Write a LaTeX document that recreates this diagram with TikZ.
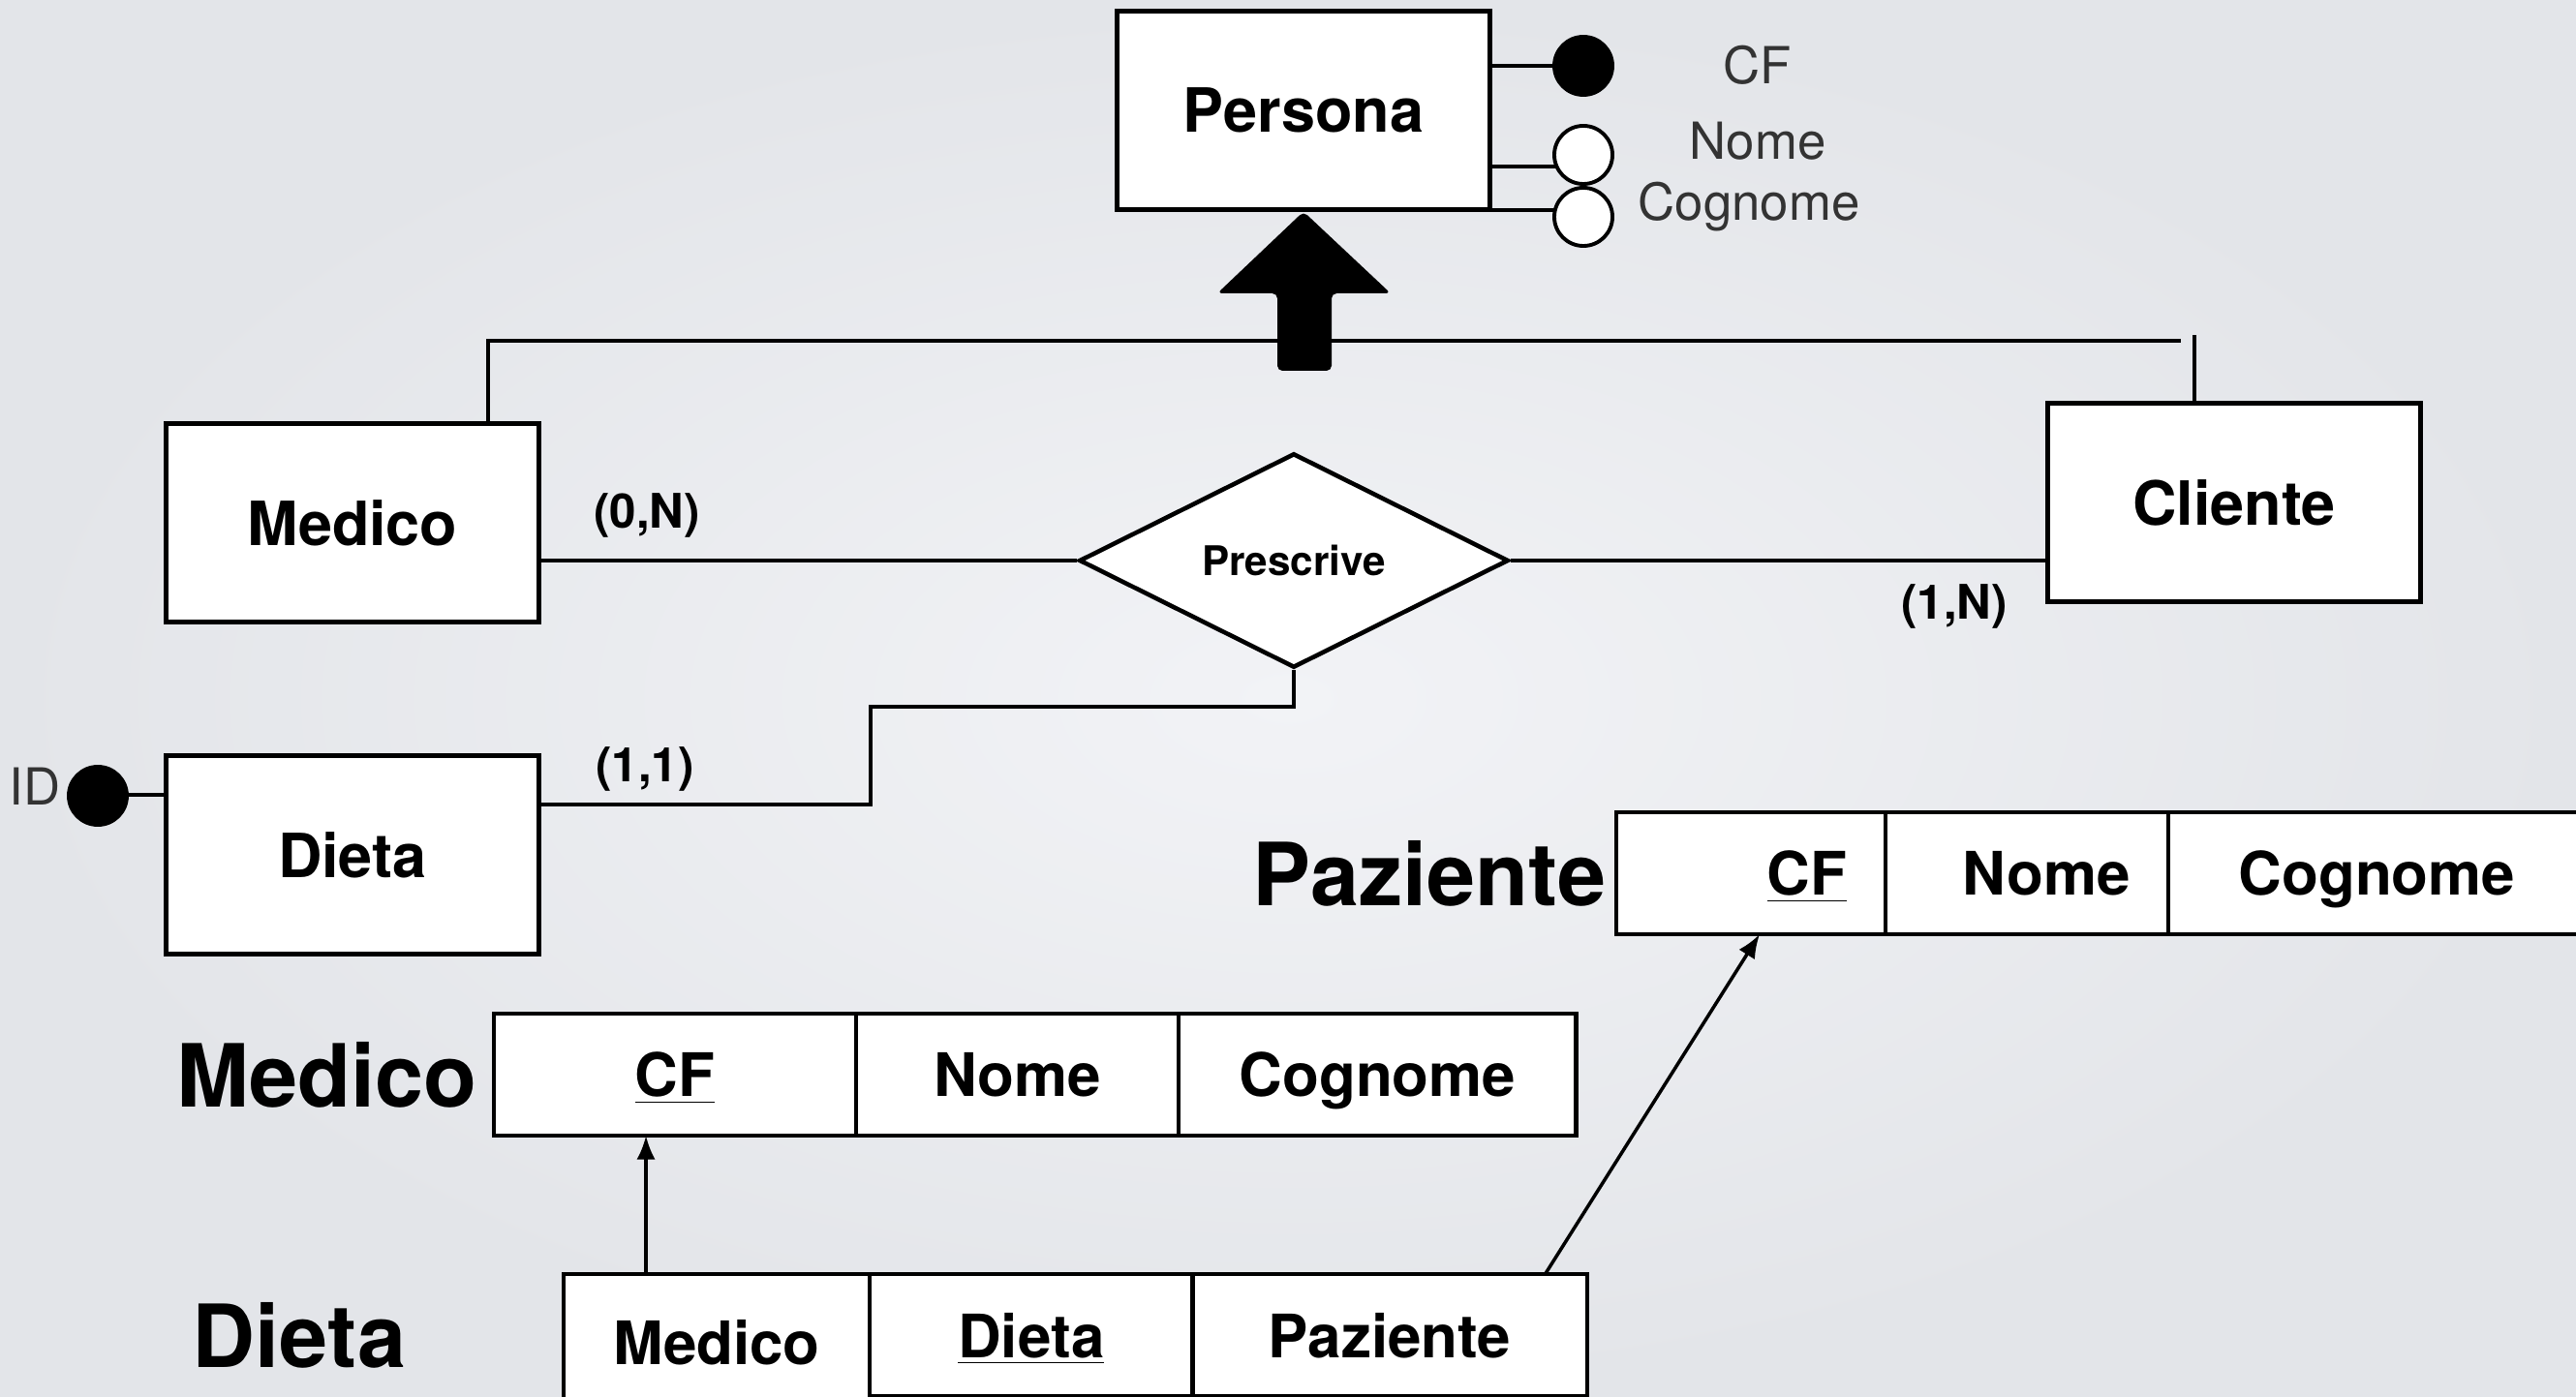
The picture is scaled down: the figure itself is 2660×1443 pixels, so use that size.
\documentclass[tikz,border=0pt]{standalone}
\usepackage{fontspec}
\setmainfont{TeX Gyre Heros}
\usetikzlibrary{shapes.geometric,positioning,arrows.meta}
\definecolor{bgin}{RGB}{242,243,246}
\definecolor{bgout}{RGB}{227,229,233}
\begin{document}
\begin{tikzpicture}[x=0.01cm,y=-0.01cm,
  entity/.style={draw,line width=1.4pt,fill=white,minimum width=3.85cm,minimum height=2.04cm,font=\bfseries\fontsize{17.9}{20}\selectfont},
  relation/.style={draw,diamond,line width=1.3pt,fill=white,minimum width=4.43cm,minimum height=2.2cm,inner sep=0pt,font=\bfseries\fontsize{12}{14}\selectfont},
  conn/.style={line width=1.1pt},
  card/.style={font=\bfseries\fontsize{14}{16}\selectfont},
  attr/.style={circle,draw,line width=1.1pt,fill=white,minimum size=0.6cm,inner sep=0pt},
  keyattr/.style={attr,fill=black},
  attrname/.style={anchor=base,text=black!80,font=\fontsize{15}{17}\selectfont},
  reltitle/.style={inner sep=0pt,font=\bfseries\fontsize{25.6}{30}\selectfont},
  cell/.style={draw,line width=1.2pt,fill=white,minimum height=1.26cm,outer sep=0pt,text depth=0pt,font=\bfseries\fontsize{17.6}{20}\selectfont},
  fk/.style={line width=1pt,-{Latex[length=7pt,width=5.5pt]}}]
\useasboundingbox (0,0) rectangle (2660,1443);
\clip (0,0) rectangle (2660,1443);
\shade[inner color=bgin,outer color=bgout] (0,0) rectangle (2660,1443);

% schema E-R
\node[entity] (ePersona) at (1346,114) {Persona};
\node[entity] (eMedico) at (364,540) {Medico};
\node[entity] (eCliente) at (2307,519) {Cliente};
\node[entity] (eDieta) at (364,883) {Dieta};
\node[relation] (rPrescrive) at (1336,579) {Prescrive};

\draw[conn] (1635,68) -- (1635,68 -| ePersona.east);
\draw[conn] (1610,172) -- (1610,172 -| ePersona.east);
\draw[conn] (1610,217) -- (1610,217 -| ePersona.east);
\draw[conn] (101,821) -- (101,821 -| eDieta.west);
\node[keyattr] (aCF) at (1635,68) {};
\node[attr] (aNome) at (1635,160) {};
\node[attr] (aCognome) at (1635,224) {};
\node[keyattr] (aID) at (101,822) {};
\node[attrname] (nCF) at (1815,87) {CF};
\node[attrname] (nNome) at (1815,165) {Nome};
\node[attrname] (nCognome) at (1806,228) {Cognome};
\node[attrname] (nID) at (36,832) {ID};

\coordinate (isaR) at (2252,352);
\draw[conn] ([xshift=-0.55cm]eMedico.north east) |- (isaR);
\draw[conn] ([xshift=-0.41cm]eCliente.north) -- ++(0,-68);
\fill[rounded corners=1.5pt] (1319,383) -- (1319,303) -- (1257,303) -- (ePersona.south) -- (1436,303) -- (1375,303) -- (1375,383) -- cycle;

\draw[conn] (rPrescrive.west) -- (rPrescrive.west -| eMedico.east);
\draw[conn] (rPrescrive.east) -- (rPrescrive.east -| eCliente.west);
\coordinate (bend) at (899,730);
\draw[conn] (rPrescrive.south) |- (bend) |- ([yshift=0.52cm]eDieta.east);

\node[card] (cMedico) at (668,532) {(0,N)};
\node[card] (cDieta) at (666,794) {(1,1)};
\node[card] (cCliente) at (2018,626) {(1,N)};

% schema relazionale
\node[cell,minimum width=3.74cm] (mCF) at (697,1110) {\underline{CF}};
\node[cell,minimum width=3.33cm,right=0pt of mCF] (mNome) {Nome};
\node[cell,minimum width=4.1cm,right=0pt of mNome] (mCognome) {Cognome};
\node[reltitle,left=0.17cm of mCF] (tMedico) {Medico};

\node[cell,minimum width=2.78cm] (pCF) at (1808,902) {\hspace*{1.16cm}\underline{CF}};
\node[cell,minimum width=2.92cm,right=0pt of pCF] (pNome) {\hspace*{0.4cm}Nome};
\node[cell,minimum width=4.3cm,right=0pt of pNome] (pCognome) {Cognome};
\node[reltitle,left=0.1cm of pCF] (tPaziente) {Paziente};

\node[cell,minimum width=3.16cm,minimum height=1.4cm,anchor=north west] (dMedico) at (582,1316) {Medico};
\node[cell,minimum width=3.33cm,anchor=north west] (dDieta) at (dMedico.north east) {\underline{Dieta}};
\node[cell,minimum width=4.07cm,anchor=north west] (dPaziente) at (dDieta.north east) {Paziente};
\node[reltitle] (tDieta) at (309,1379) {Dieta};

\coordinate (fkMedico) at ([xshift=0.85cm]dMedico.north west);
\draw[fk] (fkMedico) -- (fkMedico |- mCF.south);
\draw[fk] ([xshift=-0.43cm]dPaziente.north east) -- ([xshift=1.48cm]pCF.south west);
\end{tikzpicture}
\end{document}
